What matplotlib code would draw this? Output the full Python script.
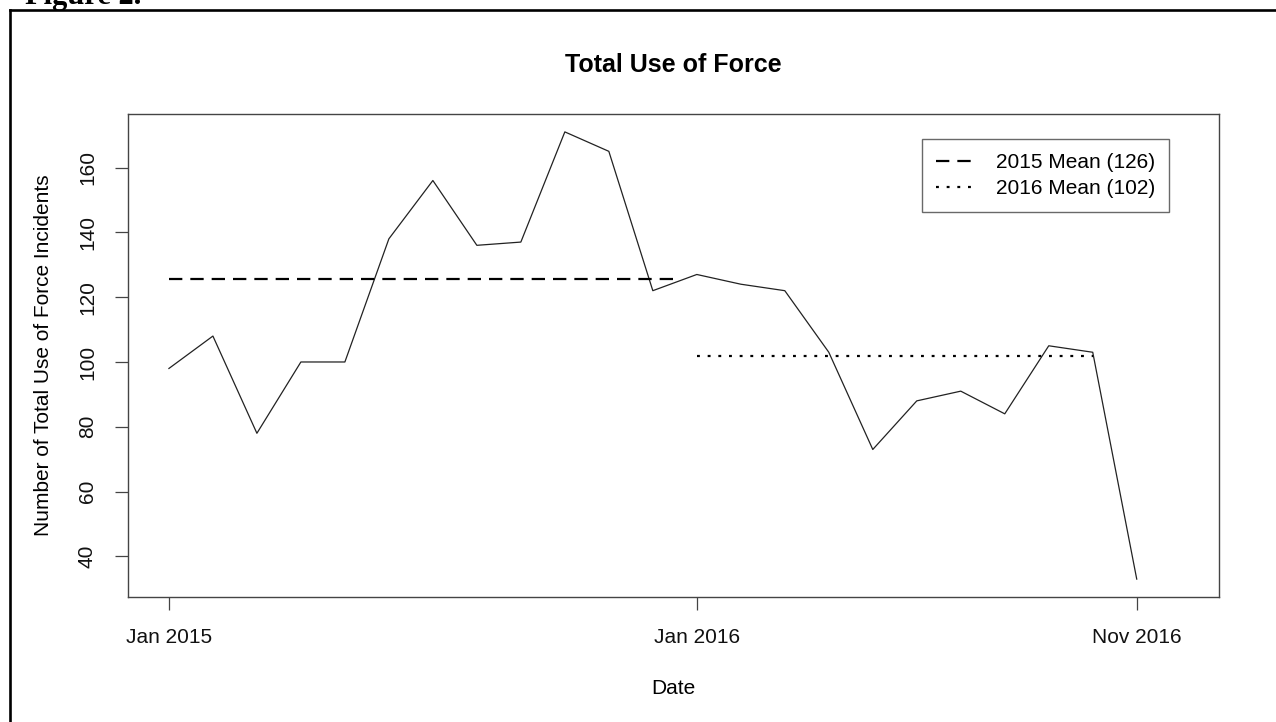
import matplotlib
matplotlib.use("Agg")
import matplotlib.pyplot as plt
import numpy as np
from matplotlib.lines import Line2D

# monthly totals, Jan 2015 .. Nov 2016
months = ["Jan 2015", "Feb 2015", "Mar 2015", "Apr 2015", "May 2015", "Jun 2015",
          "Jul 2015", "Aug 2015", "Sep 2015", "Oct 2015", "Nov 2015", "Dec 2015",
          "Jan 2016", "Feb 2016", "Mar 2016", "Apr 2016", "May 2016", "Jun 2016",
          "Jul 2016", "Aug 2016", "Sep 2016", "Oct 2016", "Nov 2016"]
incidents = [98, 108, 78, 100, 100, 138, 156, 136, 137, 171, 165, 122,
             127, 124, 122, 103, 73, 88, 91, 84, 105, 103, 33]

tick_labels = ["Jan 2015", "Jan 2016", "Nov 2016"]
y_ticks = [40, 60, 80, 100, 120, 140, 160]

# horizontal extent (month index) of each mean segment
mean_2015_span = (0, 11.5)
mean_2016_span = (12, 21)

plt.rcParams["font.family"] = ["Liberation Sans", "DejaVu Sans"]

W, H, DPI = 1276, 722, 100
fig = plt.figure(figsize=(W / DPI, H / DPI), dpi=DPI)
fig.patch.set_facecolor("white")

ax = fig.add_axes([128 / W, 1 - 597 / H, (1219 - 128) / W, (597 - 114) / H])

x = np.arange(len(months))
ax.plot(x, incidents, color="#222222", lw=0.9)

mean15 = np.mean(incidents[0:12])
mean16 = np.mean(incidents[12:22])  # Nov 2016 is left out of the 2016 mean
ax.plot(mean_2015_span, [mean15, mean15], color="black", lw=1.6,
        dashes=(6, 3.6), label=f"2015 Mean ({mean15:.0f})")
ax.plot(mean_2016_span, [mean16, mean16], color="black", lw=1.6,
        dashes=(1.3, 3.5), label=f"2016 Mean ({mean16:.0f})")

ax.set_xlim(-0.93, 23.87)
ax.set_ylim(27.48, 176.52)

ax.set_xticks([months.index(t) for t in tick_labels])
ax.set_xticklabels(tick_labels)
ax.set_yticks(y_ticks)
ax.set_yticklabels([str(v) for v in y_ticks], rotation=90, va="center")

for s in ax.spines.values():
    s.set_color("#444444")
    s.set_linewidth(1.0)
ax.tick_params(axis="both", direction="out", length=9.4, width=0.9,
               color="#444444", labelsize=15, labelcolor="#111111")
ax.tick_params(axis="x", pad=13)
ax.tick_params(axis="y", pad=13)

ax.set_title("Total Use of Force", fontsize=18, fontweight="bold", pad=30)
ax.set_xlabel("Date", fontsize=15, labelpad=23)
ax.set_ylabel("Number of Total Use of Force Incidents", fontsize=15, labelpad=18)

leg = ax.legend(loc="upper left", bbox_to_anchor=(922 / W, 1 - 139 / H),
                bbox_transform=fig.transFigure, fontsize=15, frameon=True,
                fancybox=False, borderpad=0.68, handlelength=1.75,
                handletextpad=1.12, labelspacing=0.34, borderaxespad=0)
leg.get_frame().set_edgecolor("#444444")
leg.get_frame().set_linewidth(1.0)

# outer page frame and cut-off caption
fig.add_artist(Line2D([10 / W, 1.01], [1 - 10 / H, 1 - 10 / H],
                      transform=fig.transFigure, color="black", lw=1.9))
fig.add_artist(Line2D([10 / W, 10 / W], [1 - 10 / H, -0.01],
                      transform=fig.transFigure, color="black", lw=1.9))
fig.text(25 / W, 1 - 4 / H, "Figure 2.", family=["Liberation Serif", "DejaVu Serif"],
         fontweight="bold", fontsize=22, va="baseline", ha="left")

fig.savefig("out.png", dpi=DPI)
